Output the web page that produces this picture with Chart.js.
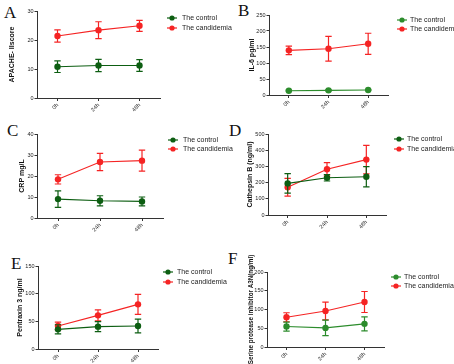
<!DOCTYPE html>
<html>
<head>
<meta charset="utf-8">
<script src="https://cdn.jsdelivr.net/npm/chart.js@4.4.1/dist/chart.umd.min.js"></script>
<style>
  html, body { margin: 0; padding: 0; background: #fff; }
  body { width: 454px; height: 364px; position: relative; overflow: hidden; }
  canvas { position: absolute; }
  .tag { position: absolute; font-family: 'Liberation Serif', serif; font-size: 17px; line-height: 17px; color: #111; }
</style>
</head>
<body>
<div class="tag" style="left:4px;top:4px">A</div>
<div class="tag" style="left:238px;top:2px">B</div>
<div class="tag" style="left:7px;top:122px">C</div>
<div class="tag" style="left:229px;top:122px">D</div>
<div class="tag" style="left:11px;top:255px">E</div>
<div class="tag" style="left:228px;top:250px">F</div>
<canvas id="chartA"></canvas>
<canvas id="chartB"></canvas>
<canvas id="chartC"></canvas>
<canvas id="chartD"></canvas>
<canvas id="chartE"></canvas>
<canvas id="chartF"></canvas>
<script>
// categories and legend
const timePoints = ['0h', '24h', '48h']
const seriesNames = ['The control', 'The candidemia']

// A - APACHE II score
const apacheControl = [10.8, 11.2, 11.2]
const apacheControlErr = [2.0, 2.1, 2.0]
const apacheCandidemia = [21.4, 23.4, 24.9]
const apacheCandidemiaErr = [2.1, 2.9, 1.9]
const apacheTicks = [0, 10, 20, 30]

// B - IL-6
const il6Control = [13.5, 14.6, 15.6]
const il6ControlErr = [1.5, 1.5, 1.5]
const il6Candidemia = [139.5, 144.5, 160]
const il6CandidemiaErr = [13.5, 38.5, 33]
const il6Ticks = [0, 50, 100, 150, 200, 250]

// C - CRP
const crpControl = [9.0, 8.2, 7.9]
const crpControlErr = [3.9, 2.4, 2.1]
const crpCandidemia = [18.4, 26.7, 27.3]
const crpCandidemiaErr = [2.2, 4.1, 5.0]
const crpTicks = [0, 10, 20, 30, 40]

// D - Cathepsin B
const ctsbControl = [195, 230, 236]
const ctsbControlErr = [60, 20, 62]
const ctsbCandidemia = [171, 282, 342]
const ctsbCandidemiaErr = [55, 41, 88]
const ctsbTicks = [0, 100, 200, 300, 400, 500]

// E - Pentraxin 3
const ptx3Control = [35.5, 40.4, 41.6]
const ptx3ControlErr = [8.3, 9, 12.3]
const ptx3Candidemia = [41.6, 60.8, 80.7]
const ptx3CandidemiaErr = [7, 10, 18]
const ptx3Ticks = [0, 50, 100, 150]

// F - Serine protease inhibitor A3N
const serpinControl = [54.6, 51, 61.7]
const serpinControlErr = [12, 20.5, 18.5]
const serpinCandidemia = [79.3, 96, 120]
const serpinCandidemiaErr = [12, 23.5, 28]
const serpinTicks = [0, 50, 100, 150, 200]

const axisTitles = [
  'APACHE- IIscore',
  'IL-6 pg/ml',
  'CRP mg/L',
  'Cathepsin B (ng/ml)',
  'Pentraxin 3 ng/ml',
  'Serine protease inhibitor A3N(ng/ml)',
]

const RED = '#f52424'
const DARK_GREEN = '#0d5e12'
const LIGHT_GREEN = '#2c8c2c'

const panels = [
  { id: 'chartA', left: 0, top: 0, w: 240, h: 120, axisX: 37, areaTop: 11, areaBottom: 98, areaRight: 160, titleCx: 12.5, titleSize: 7,
    control: apacheControl, controlErr: apacheControlErr, cand: apacheCandidemia, candErr: apacheCandidemiaErr, ticks: apacheTicks,
    green: DARK_GREEN, legX: 172, legTextX: 182, legY: [18, 28] },
  { id: 'chartB', left: 227, top: 0, w: 227, h: 120, axisX: 269, areaTop: 15, areaBottom: 95, areaRight: 388, titleCx: 252, titleSize: 7,
    control: il6Control, controlErr: il6ControlErr, cand: il6Candidemia, candErr: il6CandidemiaErr, ticks: il6Ticks,
    green: LIGHT_GREEN, legX: 402, legTextX: 410, legY: [20, 29] },
  { id: 'chartC', left: 0, top: 120, w: 240, h: 120, axisX: 37, areaTop: 134, areaBottom: 218, areaRight: 163, titleCx: 22.5, titleSize: 7,
    control: crpControl, controlErr: crpControlErr, cand: crpCandidemia, candErr: crpCandidemiaErr, ticks: crpTicks,
    green: DARK_GREEN, legX: 173, legTextX: 183, legY: [140, 149] },
  { id: 'chartD', left: 227, top: 120, w: 227, h: 120, axisX: 268, areaTop: 134, areaBottom: 215, areaRight: 386, titleCx: 250, titleSize: 7,
    control: ctsbControl, controlErr: ctsbControlErr, cand: ctsbCandidemia, candErr: ctsbCandidemiaErr, ticks: ctsbTicks,
    green: DARK_GREEN, legX: 399, legTextX: 407, legY: [139, 149] },
  { id: 'chartE', left: 0, top: 240, w: 240, h: 124, axisX: 38, areaTop: 266, areaBottom: 349, areaRight: 158, titleCx: 20.5, titleSize: 7,
    control: ptx3Control, controlErr: ptx3ControlErr, cand: ptx3Candidemia, candErr: ptx3CandidemiaErr, ticks: ptx3Ticks,
    green: DARK_GREEN, legX: 168, legTextX: 177, legY: [272, 282] },
  { id: 'chartF', left: 227, top: 240, w: 227, h: 124, axisX: 267, areaTop: 272, areaBottom: 347, areaRight: 384, titleCx: 251.5, titleSize: 6.3,
    control: serpinControl, controlErr: serpinControlErr, cand: serpinCandidemia, candErr: serpinCandidemiaErr, ticks: serpinTicks,
    green: LIGHT_GREEN, legX: 396, legTextX: 404, legY: [277, 286] },
]

// vertical error bars with caps, drawn right after each dataset
const errorBars = {
  id: 'errorBars',
  afterDatasetDraw(chart, args) {
    const ds = chart.data.datasets[args.index]
    if (!ds.errors) return
    const ctx = chart.ctx
    const yScale = chart.scales.y
    ctx.save()
    ctx.strokeStyle = ds.borderColor
    ctx.lineWidth = 1.2
    args.meta.data.forEach((pt, i) => {
      const v = ds.data[i]
      const e = ds.errors[i]
      const yTop = yScale.getPixelForValue(v + e)
      const yBot = yScale.getPixelForValue(v - e)
      ctx.beginPath()
      ctx.moveTo(pt.x, yTop)
      ctx.lineTo(pt.x, yBot)
      ctx.moveTo(pt.x - 3.2, yTop)
      ctx.lineTo(pt.x + 3.2, yTop)
      ctx.moveTo(pt.x - 3.2, yBot)
      ctx.lineTo(pt.x + 3.2, yBot)
      ctx.stroke()
    })
    ctx.restore()
  },
}

// legend placed to the right of the plot
const sideLegend = {
  id: 'sideLegend',
  afterDraw(chart, args, opts) {
    const ctx = chart.ctx
    ctx.save()
    ctx.font = '7px "Liberation Sans", Arial, sans-serif'
    ctx.textBaseline = 'middle'
    chart.data.datasets.forEach((ds, i) => {
      const y = opts.rows[i]
      ctx.strokeStyle = ds.borderColor
      ctx.lineWidth = 1.2
      ctx.beginPath()
      ctx.moveTo(opts.x - 5, y)
      ctx.lineTo(opts.x + 5, y)
      ctx.stroke()
      ctx.fillStyle = ds.borderColor
      ctx.beginPath()
      ctx.arc(opts.x, y, 2.6, 0, Math.PI * 2)
      ctx.fill()
      ctx.fillStyle = '#222'
      ctx.fillText(ds.label, opts.textX, y)
    })
    ctx.restore()
  },
}

panels.forEach((p, idx) => {
  const canvas = document.getElementById(p.id)
  canvas.width = p.w
  canvas.height = p.h
  canvas.style.left = p.left + 'px'
  canvas.style.top = p.top + 'px'
  canvas.style.width = p.w + 'px'
  canvas.style.height = p.h + 'px'

  const ticks = p.ticks
  const titleLine = p.titleSize * 1.2

  new Chart(canvas.getContext('2d'), {
    type: 'line',
    data: {
      labels: timePoints,
      datasets: [
        {
          label: seriesNames[0],
          data: p.control,
          errors: p.controlErr,
          borderColor: p.green,
          backgroundColor: p.green,
          borderWidth: 1.1,
          pointRadius: 3.2,
          pointBorderWidth: 0,
          pointHoverRadius: 3.2,
        },
        {
          label: seriesNames[1],
          data: p.cand,
          errors: p.candErr,
          borderColor: RED,
          backgroundColor: RED,
          borderWidth: 1.1,
          pointRadius: 3.2,
          pointBorderWidth: 0,
          pointHoverRadius: 3.2,
        },
      ],
    },
    options: {
      responsive: false,
      animation: false,
      layout: {
        padding: {
          left: 0,
          top: p.areaTop - p.top,
          right: p.left + p.w - p.areaRight,
          bottom: 0,
        },
      },
      plugins: {
        legend: { display: false },
        tooltip: { enabled: false },
        sideLegend: {
          x: p.legX - p.left,
          textX: p.legTextX - p.left,
          rows: p.legY.map((y) => y - p.top),
        },
      },
      scales: {
        x: {
          type: 'category',
          offset: true,
          afterFit: (scale) => {
            scale.height = p.top + p.h - p.areaBottom
          },
          border: { display: true, color: '#333', width: 1 },
          grid: { display: true, drawOnChartArea: false, drawTicks: true, tickLength: 3, color: '#333' },
          ticks: {
            color: '#222',
            font: { family: '"Liberation Sans", Arial, sans-serif', size: 5.5 },
            minRotation: 45,
            maxRotation: 45,
            autoSkip: false,
            padding: 1,
          },
        },
        y: {
          min: ticks[0],
          max: ticks[ticks.length - 1],
          afterFit: (scale) => {
            scale.width = p.axisX - p.left
          },
          border: { display: true, color: '#333', width: 1 },
          grid: { display: true, drawOnChartArea: false, drawTicks: true, tickLength: 2.5, color: '#333' },
          ticks: {
            stepSize: ticks[1] - ticks[0],
            color: '#222',
            font: { family: '"Liberation Sans", Arial, sans-serif', size: 5.5 },
            padding: 1,
          },
          title: {
            display: true,
            text: axisTitles[idx],
            color: '#111',
            font: { family: '"Liberation Sans", Arial, sans-serif', size: p.titleSize, weight: 'bold' },
            padding: { top: p.titleCx - p.left - titleLine / 2, bottom: 0 },
          },
        },
      },
    },
    plugins: [errorBars, sideLegend],
  })
})
</script>
</body>
</html>
